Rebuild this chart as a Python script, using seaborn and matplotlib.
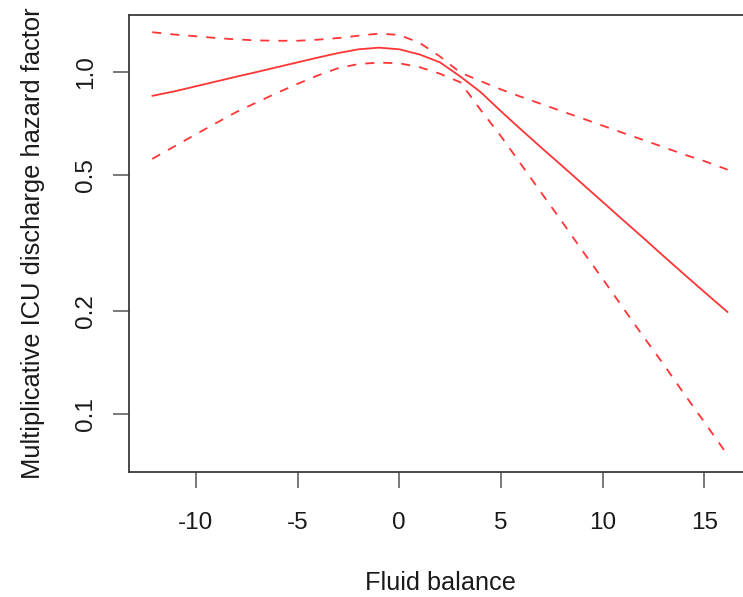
import matplotlib
matplotlib.use("Agg")
import matplotlib.pyplot as plt
import seaborn as sns
import pandas as pd

# Fluid balance grid and the estimated hazard factor with its 95% band
fluid_balance = [-12.15, -11, -10, -9, -8, -7, -6, -5, -4, -3, -2, -1, 0, 1, 2,
                 3, 4, 5, 6, 7, 8, 9, 10, 11, 12, 13, 14, 15, 16.15]
hazard = [0.853, 0.881, 0.910, 0.940, 0.971, 1.002, 1.035, 1.069, 1.104, 1.138,
          1.167, 1.180, 1.167, 1.127, 1.069, 0.972, 0.875, 0.769, 0.679, 0.601,
          0.533, 0.472, 0.418, 0.370, 0.328, 0.290, 0.257, 0.228, 0.199]
hazard_upper = [1.309, 1.288, 1.274, 1.259, 1.247, 1.239, 1.236, 1.236, 1.245,
                1.259, 1.279, 1.297, 1.285, 1.219, 1.112, 0.998, 0.942, 0.891,
                0.847, 0.807, 0.769, 0.733, 0.698, 0.665, 0.634, 0.604, 0.575,
                0.550, 0.519]
hazard_lower = [0.558, 0.610, 0.659, 0.711, 0.766, 0.817, 0.871, 0.925, 0.979,
                1.028, 1.057, 1.067, 1.062, 1.035, 0.990, 0.935, 0.776, 0.650,
                0.537, 0.443, 0.366, 0.301, 0.249, 0.205, 0.169, 0.140, 0.115,
                0.095, 0.076]

y_ticks = [0.1, 0.2, 0.5, 1.0]
y_tick_labels = ["0.1", "0.2", "0.5", "1.0"]
x_ticks = [-10, -5, 0, 5, 10, 15]

df = pd.DataFrame({"fluid": fluid_balance, "hr": hazard,
                   "upper": hazard_upper, "lower": hazard_lower})

sns.set_theme(style="white")
plt.rcParams["font.family"] = ["Liberation Sans", "DejaVu Sans"]

W, H = 743, 597
fig = plt.figure(figsize=(W / 100, H / 100), dpi=100)
left_px, right_px, top_px, bottom_px = 129.3, 750.6, 15.0, 472.3
ax = fig.add_axes([left_px / W, 1 - bottom_px / H,
                   (right_px - left_px) / W, (bottom_px - top_px) / H])

line_color = "#ff3535"
sns.lineplot(data=df, x="fluid", y="hr", ax=ax, color=line_color, lw=1.3,
             estimator=None, sort=False)
for col in ["upper", "lower"]:
    sns.lineplot(data=df, x="fluid", y=col, ax=ax, color=line_color, lw=1.3,
                 linestyle=(0, (5, 5)), estimator=None, sort=False)

ax.set_yscale("log")
ax.set_xlim(-13.28, 17.28)
ax.set_ylim(0.0677, 1.470)
ax.set_xticks(x_ticks)
ax.set_xticklabels([str(t) for t in x_ticks])
ax.set_yticks(y_ticks)
ax.set_yticklabels(y_tick_labels, rotation=90, va="center")
ax.yaxis.set_minor_locator(matplotlib.ticker.NullLocator())

spine_color = "#3a3a3a"
for side in ["left", "bottom", "top", "right"]:
    ax.spines[side].set_visible(True)
    ax.spines[side].set_color(spine_color)
    ax.spines[side].set_linewidth(1.3)

ax.tick_params(axis="both", which="major", direction="out", length=11.5,
               width=1.1, color="#555555", labelsize=17.5, labelcolor="#1a1a1a",
               bottom=True, left=True)
ax.tick_params(axis="x", pad=17)
ax.tick_params(axis="y", pad=12)

ax.set_xlabel("Fluid balance", fontsize=18.2, color="#1a1a1a", labelpad=27)
ax.set_ylabel("Multiplicative ICU discharge hazard factor", fontsize=18.4,
              color="#1a1a1a", labelpad=21)

fig.savefig("out.png", dpi=100)
